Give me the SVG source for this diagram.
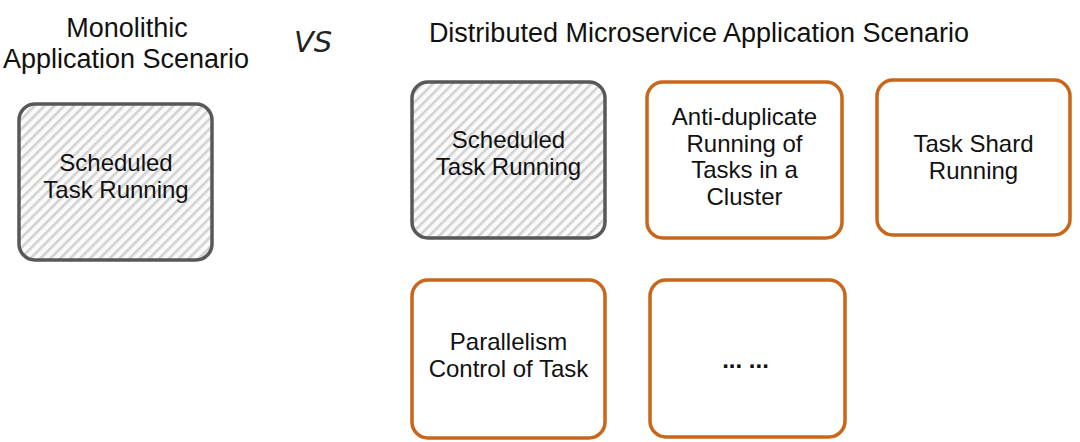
<svg xmlns="http://www.w3.org/2000/svg" width="1080" height="442" viewBox="0 0 1080 442">
  <style>
    .title { font-family: "Liberation Sans", Arial, sans-serif; font-size: 27px; fill: #111; text-anchor: middle; }
    .label { font-family: "Liberation Sans", Arial, sans-serif; font-size: 24px; fill: #111; text-anchor: middle; }
    .vs { font-family: "DejaVu Sans", sans-serif; font-style: italic; font-size: 29px; fill: #222; }
    .gray { fill: url(#hatch); stroke: #585858; stroke-width: 3.5; }
    .orange { fill: #ffffff; stroke: #c8661c; stroke-width: 3.5; }
  </style>
  <defs>
    <pattern id="hatch" patternUnits="userSpaceOnUse" width="7" height="7" patternTransform="rotate(45)">
      <rect x="0" y="0" width="7" height="7" fill="#fafafa"/>
      <rect x="0" y="0" width="2.6" height="7" fill="#d2d2d2"/>
    </pattern>
  </defs>
  <rect width="1080" height="442" fill="#ffffff"/>

  <g id="titles">
    <text class="title" x="127" y="37">Monolithic</text>
    <text class="title" x="126" y="68">Application Scenario</text>
    <text class="vs" x="294" y="52">VS</text>
    <text class="title" x="699" y="42">Distributed Microservice Application Scenario</text>
  </g>

  <g id="connectors"></g>

  <g id="mono-scheduled">
    <rect class="gray" x="19" y="104" width="193" height="156" rx="16"/>
    <text class="label" x="116" y="171">Scheduled</text>
    <text class="label" x="116" y="198">Task Running</text>
  </g>

  <g id="dist-scheduled">
    <rect class="gray" x="412" y="82" width="193" height="156" rx="16"/>
    <text class="label" x="508.5" y="148">Scheduled</text>
    <text class="label" x="508.5" y="175">Task Running</text>
  </g>

  <g id="anti-duplicate">
    <rect class="orange" x="647" y="82" width="195" height="156" rx="16"/>
    <text class="label" x="744.5" y="125">Anti-duplicate</text>
    <text class="label" x="744.5" y="152">Running of</text>
    <text class="label" x="744.5" y="178">Tasks in a</text>
    <text class="label" x="744.5" y="205">Cluster</text>
  </g>

  <g id="task-shard">
    <rect class="orange" x="877" y="80" width="193" height="155" rx="16"/>
    <text class="label" x="973.5" y="152">Task Shard</text>
    <text class="label" x="973.5" y="179">Running</text>
  </g>

  <g id="parallelism">
    <rect class="orange" x="412" y="280" width="193" height="158" rx="16"/>
    <text class="label" x="508.5" y="350">Parallelism</text>
    <text class="label" x="508.5" y="377">Control of Task</text>
  </g>

  <g id="more">
    <rect class="orange" x="650" y="280" width="195" height="157" rx="16"/>
    <text class="label" x="745.5" y="368" font-weight="bold">... ...</text>
  </g>
</svg>
